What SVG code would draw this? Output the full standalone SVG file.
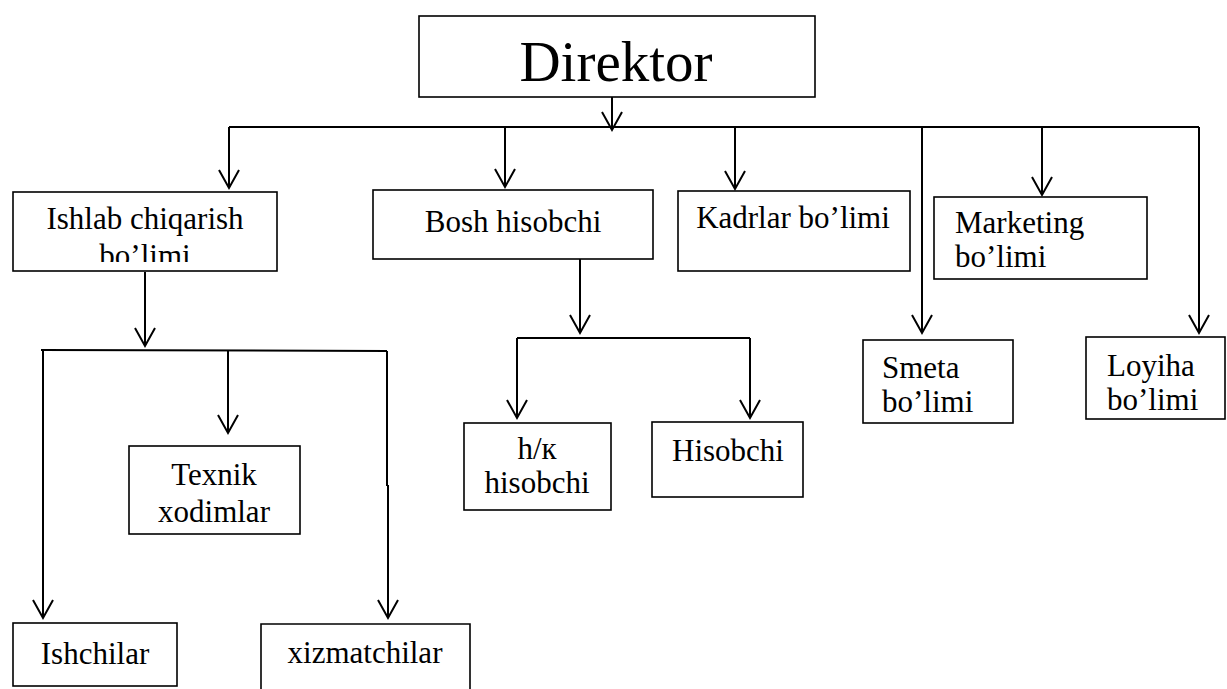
<svg xmlns="http://www.w3.org/2000/svg" width="1227" height="689" viewBox="0 0 1227 689">
<style>
.box{fill:#fff;stroke:#000;stroke-width:1.6}
.ln{fill:none;stroke:#000;stroke-width:2}
.ar{fill:none;stroke:#000;stroke-width:2;marker-end:url(#arr)}
text{font-family:'Liberation Serif','Times New Roman',Tinos,'DejaVu Serif',serif;font-size:31px;fill:#000}
.c{text-anchor:middle}
</style>
<defs>
<marker id="arr" markerUnits="userSpaceOnUse" viewBox="-20 -12 22 24" refX="0" refY="0" markerWidth="22" markerHeight="24" orient="auto" overflow="visible">
<path d="M-18,-10 L0,0 L-18,10" fill="none" stroke="#000" stroke-width="2"/>
</marker>
<clipPath id="clipIsh"><rect x="13" y="192" width="264" height="70"/></clipPath>
</defs>
<g id="connectors">
<line class="ar" x1="612" y1="97" x2="612" y2="130"/>
<line class="ln" x1="229" y1="127" x2="1199" y2="127"/>
<line class="ar" x1="229" y1="127" x2="229" y2="188"/>
<line class="ar" x1="505" y1="127" x2="505" y2="187"/>
<line class="ar" x1="735" y1="127" x2="735" y2="189"/>
<line class="ar" x1="922" y1="127" x2="922" y2="333"/>
<line class="ar" x1="1042" y1="127" x2="1042" y2="195"/>
<line class="ar" x1="1199" y1="127" x2="1199" y2="333"/>
<line class="ar" x1="145" y1="272" x2="145" y2="346"/>
<line class="ln" x1="41" y1="350" x2="387" y2="351"/>
<line class="ar" x1="43" y1="350" x2="43" y2="618"/>
<line class="ar" x1="228" y1="350" x2="228" y2="433"/>
<line class="ln" x1="387" y1="351" x2="387" y2="486"/>
<line class="ar" x1="388" y1="485" x2="388" y2="618"/>
<line class="ar" x1="580" y1="259" x2="580" y2="333"/>
<line class="ln" x1="517" y1="338" x2="750" y2="338"/>
<line class="ar" x1="517" y1="338" x2="517" y2="418"/>
<line class="ar" x1="750" y1="338" x2="750" y2="418"/>
</g>
<g font-family="Liberation Serif, Times New Roman, serif">
<g id="direktor">
<rect class="box" x="419" y="16" width="396" height="81"/>
<text class="c" x="616" y="81" font-family="Liberation Serif, serif" style="font-size:57px">Direktor</text>
</g>
<g id="ishlab">
<rect class="box" x="13" y="192" width="264" height="79"/>
<text class="c" x="145" y="229">Ishlab chiqarish</text>
<text class="c" x="145" y="266" clip-path="url(#clipIsh)">bo’limi</text>
</g>
<g id="bosh">
<rect class="box" x="373" y="190" width="280" height="69"/>
<text class="c" x="513" y="232">Bosh hisobchi</text>
</g>
<g id="kadrlar">
<rect class="box" x="678" y="191" width="232" height="80"/>
<text class="c" x="793" y="228">Kadrlar bo’limi</text>
</g>
<g id="marketing">
<rect class="box" x="934" y="197" width="213" height="82"/>
<text x="955" y="233">Marketing</text>
<text x="955" y="267">bo’limi</text>
</g>
<g id="smeta">
<rect class="box" x="863" y="340" width="150" height="83"/>
<text x="882" y="378">Smeta</text>
<text x="882" y="412">bo’limi</text>
</g>
<g id="loyiha">
<rect class="box" x="1086" y="337" width="139" height="82"/>
<text x="1107" y="376">Loyiha</text>
<text x="1107" y="410">bo’limi</text>
</g>
<g id="hk">
<rect class="box" x="464" y="423" width="147" height="87"/>
<text class="c" x="537" y="459">h/к</text>
<text class="c" x="537" y="493">hisobchi</text>
</g>
<g id="hisobchi">
<rect class="box" x="652" y="422" width="151" height="75"/>
<text class="c" x="728" y="461">Hisobchi</text>
</g>
<g id="texnik">
<rect class="box" x="129" y="446" width="171" height="88"/>
<text class="c" x="214" y="485">Texnik</text>
<text class="c" x="214" y="522">xodimlar</text>
</g>
<g id="ishchilar">
<rect class="box" x="13" y="623" width="164" height="63"/>
<text class="c" x="95" y="664">Ishchilar</text>
</g>
<g id="xizmatchilar">
<path class="box" d="M261,695 L261,624 L470,624 L470,695"/>
<text class="c" x="365" y="663">xizmatchilar</text>
</g>
</g>
</svg>
